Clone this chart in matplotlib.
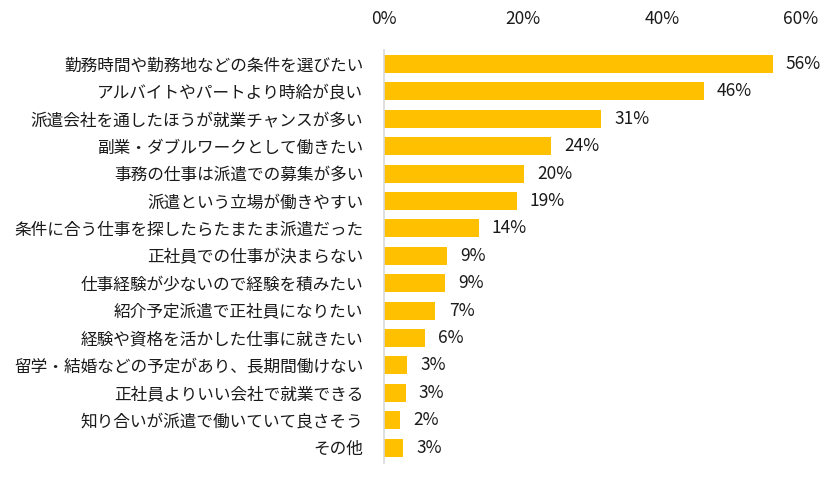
import matplotlib
matplotlib.use("Agg")
import matplotlib.pyplot as plt

plt.rcParams['font.family'] = ['Noto Sans CJK JP', 'DejaVu Sans']

labels = [
    "勤務時間や勤務地などの条件を選びたい",
    "アルバイトやパートより時給が良い",
    "派遣会社を通したほうが就業チャンスが多い",
    "副業・ダブルワークとして働きたい",
    "事務の仕事は派遣での募集が多い",
    "派遣という立場が働きやすい",
    "条件に合う仕事を探したらたまたま派遣だった",
    "正社員での仕事が決まらない",
    "仕事経験が少ないので経験を積みたい",
    "紹介予定派遣で正社員になりたい",
    "経験や資格を活かした仕事に就きたい",
    "留学・結婚などの予定があり、長期間働けない",
    "正社員よりいい会社で就業できる",
    "知り合いが派遣で働いていて良さそう",
    "その他",
]
values = [55.9, 46.0, 31.2, 24.1, 20.1, 19.1, 13.6, 9.0, 8.8, 7.4, 5.9, 3.3, 3.1, 2.3, 2.7]
value_text = ["56%", "46%", "31%", "24%", "20%", "19%", "14%", "9%", "9%", "7%",
              "6%", "3%", "3%", "2%", "3%"]
xticks = [0, 20, 40, 60]

fig = plt.figure(figsize=(8.4, 4.83), dpi=100)
ax = fig.add_axes([384/840, 1 - 463/483, 417/840, 413/483])

ypos = list(range(len(labels)))
ax.barh(ypos, values, height=0.66, color="#FFC000")

for y, v, t in zip(ypos, values, value_text):
    ax.text(v + 1.9, y, t, va="center", ha="left", fontsize=12.5, color="#1a1a1a")

ax.set_xlim(0, 60)
ax.set_ylim(14.56, -0.51)
ax.set_yticks(ypos)
ax.set_yticklabels(labels, fontsize=12, color="#1a1a1a")
ax.set_xticks(xticks)
ax.set_xticklabels([f"{x}%" for x in xticks], fontsize=12.5, color="#1a1a1a")
ax.xaxis.tick_top()
ax.tick_params(axis="x", length=0, pad=16)
ax.tick_params(axis="y", length=0, pad=15)

for s in ["top", "right", "bottom"]:
    ax.spines[s].set_visible(False)
ax.spines["left"].set_color("#d9d9d9")
ax.spines["left"].set_linewidth(1.2)

fig.savefig("out.png", dpi=100)
